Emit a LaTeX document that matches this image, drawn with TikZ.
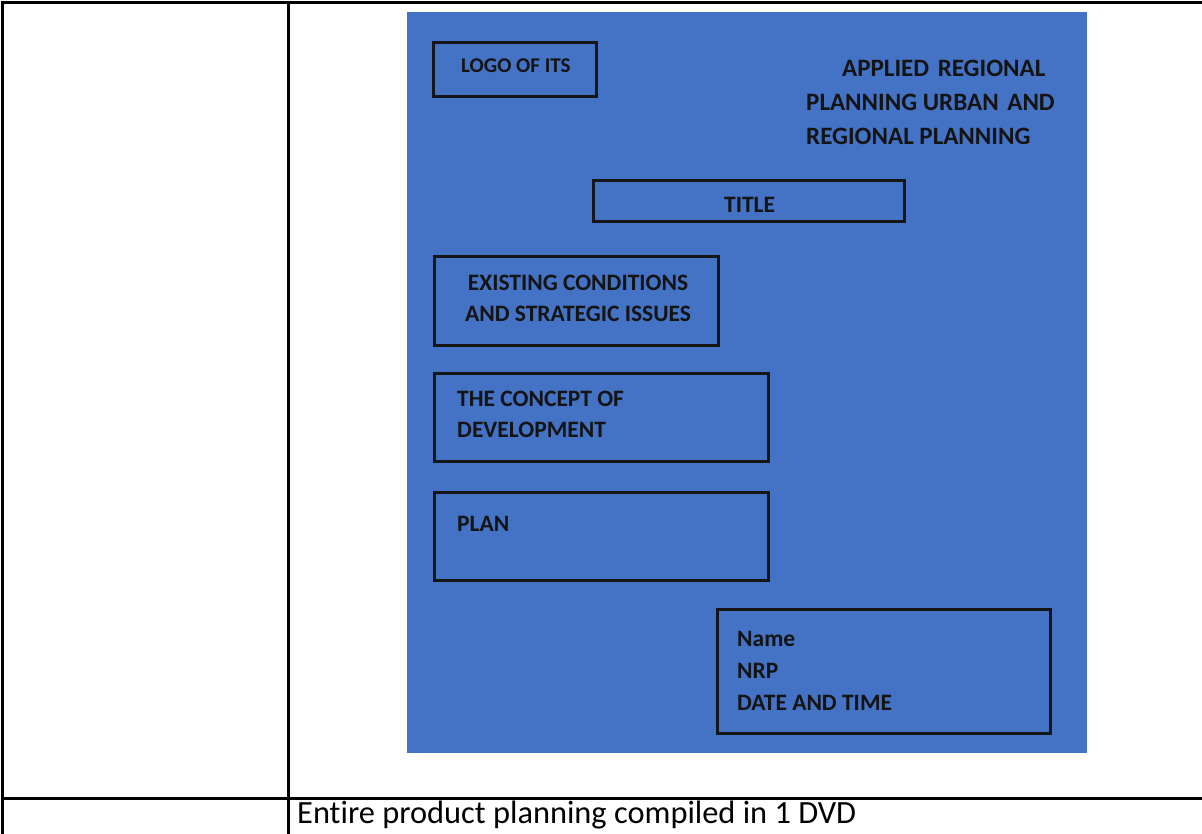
\documentclass[tikz,border=0pt]{standalone}
\usepackage{fontspec}
\setmainfont{Carlito}[Ligatures=NoCommon]
\usepackage{xcolor}
\usepackage{tikz}
\usetikzlibrary{positioning}
\definecolor{coverblue}{HTML}{4472C4}
\definecolor{boxline}{HTML}{161616}

\begin{document}
\begin{tikzpicture}[x=1pt,y=-1pt,
    cell/.style={draw=black,line width=3pt},
    frame/.style={draw=boxline,line width=3pt,rectangle,inner sep=0pt},
    caption/.style={font=\fontsize{23.5}{31}\selectfont\bfseries,text=black!92,
      inner sep=0pt,anchor=base west,align=left},
    heading/.style={caption,font=\fontsize{25}{34}\selectfont\bfseries},
    plain/.style={font=\fontsize{32.4}{38}\selectfont,inner sep=0pt,anchor=base west}]
  \useasboundingbox (0,0) rectangle (1202,834);
  % table frame
  \coordinate (tl) at (2,3);
  \coordinate (tr) at (1202,3);
  \coordinate (bl) at (2,834);
  \coordinate (dt) at (288,3);
  \coordinate (db) at (288,834);
  \coordinate (ml) at (2,798);
  \coordinate (mr) at (1202,798);
  \draw[cell] (bl) -- (tl) -- (tr);
  \draw[cell] (dt) -- (db);
  \draw[cell] (ml) -- (mr);
  % cover sheet
  \node [fill=coverblue,inner sep=0pt,minimum width=680pt,minimum height=741pt] (cover) at (747,382.5) {};
  \node [frame,minimum width=163pt,minimum height=54pt] (logo) at (514.5,70) {};
  \node [frame,minimum width=311pt,minimum height=41pt] (title) at (749,201) {};
  \node [frame,minimum width=284pt,minimum height=88pt] (existing) at (576,301) {};
  \node [frame,minimum width=334pt,minimum height=88pt] (concept) at (601,417) {};
  \node [frame,minimum width=334pt,minimum height=88pt] (plan) at (601,536) {};
  \node [frame,minimum width=333pt,minimum height=124pt] (student) at (883.5,671) {};
  % texts (multi-line nodes sit on their last line)
  \node [caption,font=\fontsize{21}{26}\selectfont\bfseries] (logotxt) at (461,73) {LOGO OF ITS};
  \node [heading] (course) at (806,145) {\hspace*{36pt}APPLIED\hspace{3pt} REGIONAL\\PLANNING URBAN\hspace{3pt} AND\\REGIONAL PLANNING};
  \node [caption] (titletxt) at (724,213) {TITLE};
  \node [caption,align=center,anchor=base] (existingtxt) at (578,321) {EXISTING CONDITIONS\\AND STRATEGIC ISSUES};
  \node [caption] (concepttxt) at (457,437) {THE CONCEPT OF\\DEVELOPMENT};
  \node [caption] (plantxt) at (457,531) {PLAN};
  \node [caption] (studenttxt) at (737,710) {Name\\[1pt]NRP\\[1pt]DATE AND TIME};
  \node [plain] (dvd) at (297,823) {Entire product planning compiled in 1 DVD};
\end{tikzpicture}
\end{document}
